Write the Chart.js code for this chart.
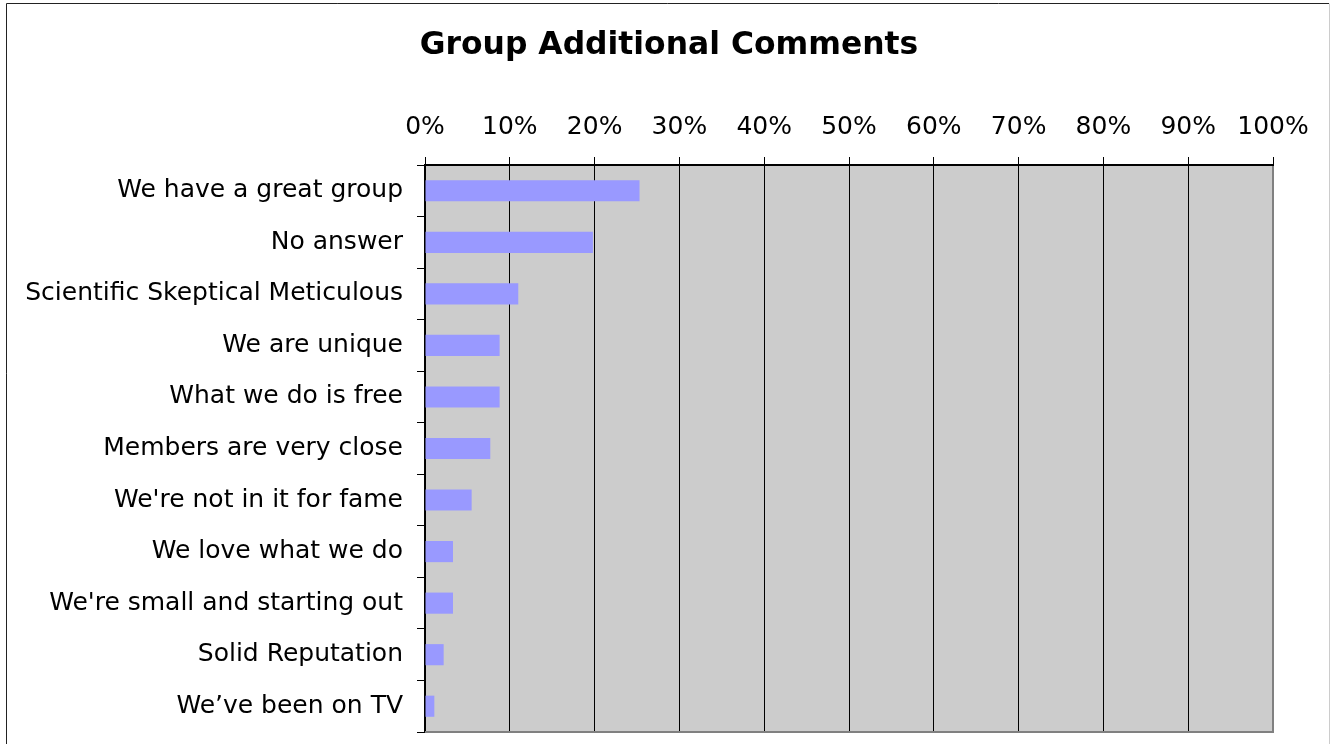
<!DOCTYPE html>
<html>
<head>
<meta charset="utf-8">
<script src="https://cdn.jsdelivr.net/npm/chart.js@4"></script>
<style>
html,body{margin:0;padding:0;background:#fff;}
#wrap{width:1330px;height:744px;position:relative;}
canvas{display:block;}
</style>
</head>
<body>
<div id="wrap"><canvas id="c" width="1330" height="744"></canvas></div>
<script>
const categories = [
  "We have a great group",
  "No answer",
  "Scientific Skeptical Meticulous",
  "We are unique",
  "What we do is free",
  "Members are very close",
  "We're not in it for fame",
  "We love what we do",
  "We're small and starting out",
  "Solid Reputation",
  "We\u2019ve been on TV"
];
const percentValues = [25.3, 19.8, 11.0, 8.8, 8.8, 7.7, 5.5, 3.3, 3.3, 2.2, 1.1];
const xTickValues = [0, 10, 20, 30, 40, 50, 60, 70, 80, 90, 100];
const chartTitle = "Group Additional Comments";

const FONT = "'DejaVu Sans', Verdana, sans-serif";

const decor = {
  id: 'decor',
  beforeDraw(chart) {
    const {ctx, chartArea: a} = chart;
    ctx.save();
    ctx.fillStyle = '#cccccc';
    ctx.fillRect(a.left, a.top, a.right - a.left, a.bottom - a.top);
    ctx.restore();
  },
  afterDraw(chart) {
    const {ctx, chartArea: a} = chart;
    ctx.save();
    ctx.strokeStyle = '#808080';
    ctx.lineWidth = 2;
    ctx.beginPath();
    ctx.moveTo(a.right, a.top);
    ctx.lineTo(a.right, a.bottom);
    ctx.lineTo(a.left, a.bottom);
    ctx.stroke();
    ctx.strokeStyle = '#000';
    ctx.beginPath();
    ctx.moveTo(a.left, a.top);
    ctx.lineTo(a.right + 1, a.top);
    ctx.stroke();
    // outer frame
    ctx.lineWidth = 1;
    ctx.strokeStyle = '#222';
    ctx.beginPath();
    ctx.moveTo(6.5, 744);
    ctx.lineTo(6.5, 3.5);
    ctx.lineTo(1329, 3.5);
    ctx.stroke();
    ctx.strokeStyle = '#cccccc';
    ctx.beginPath();
    ctx.moveTo(1329.5, 3.5);
    ctx.lineTo(1329.5, 744);
    ctx.stroke();
    // title
    ctx.fillStyle = '#000';
    ctx.font = "bold 31.4px " + FONT;
    ctx.textAlign = 'center';
    ctx.textBaseline = 'middle';
    ctx.fillText(chartTitle, 669, 46);
    ctx.restore();
  }
};

new Chart(document.getElementById('c'), {
  type: 'bar',
  data: {
    labels: categories,
    datasets: [{
      data: percentValues,
      backgroundColor: '#9999ff',
      borderWidth: 0,
      categoryPercentage: 1,
      barPercentage: 0.41
    }]
  },
  options: {
    indexAxis: 'y',
    responsive: false,
    animation: false,
    layout: { padding: { left: 0, right: 57, top: 0, bottom: 12 } },
    plugins: {
      legend: { display: false },
      tooltip: { enabled: false },
      title: { display: false }
    },
    scales: {
      x: {
        position: 'top',
        min: 0,
        max: 100,
        afterBuildTicks(scale) {
          scale.ticks = xTickValues.map(v => ({ value: v }));
        },
        afterFit(scale) { scale.height = 165; },
        ticks: {
          color: '#000',
          font: { family: FONT, size: 25 },
          padding: 15,
          maxRotation: 0,
          autoSkip: false,
          callback: v => v + '%'
        },
        grid: {
          color: '#000',
          lineWidth: 1,
          drawTicks: true,
          tickLength: 8,
          tickColor: '#000'
        },
        border: { display: true, color: '#000', width: 2 }
      },
      y: {
        afterFit(scale) {
          scale.width = 425;
          scale.paddingTop = 0;
          scale.paddingBottom = 0;
        },
        ticks: {
          color: '#000',
          font: { family: FONT, size: 25 },
          padding: 14,
          autoSkip: false
        },
        grid: {
          offset: true,
          drawOnChartArea: false,
          drawTicks: true,
          tickLength: 8,
          tickColor: '#000',
          lineWidth: 1
        },
        border: { display: true, color: '#000', width: 2 }
      }
    }
  },
  plugins: [decor]
});
</script>
</body>
</html>
